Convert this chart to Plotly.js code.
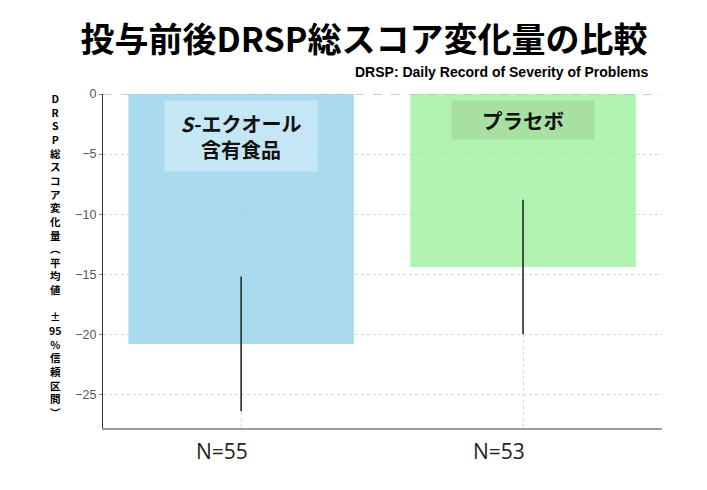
<!DOCTYPE html>
<html>
<head>
<meta charset="utf-8">
<script src="https://cdn.plot.ly/plotly-3.0.1.min.js"></script>
<style>
  body { margin: 0; background: #fff; }
  #chart { width: 707px; height: 490px; }
</style>
</head>
<body>
<div id="chart"></div>
<script>
// values
var groups = ["S-エクオール含有食品", "プラセボ"];
var nLabels = ["N=55", "N=53"];
var meanChange = [-20.8, -14.4];
var ci95 = [5.6, 5.6];
var yTicks = [0, -5, -10, -15, -20, -25];
var yTitleChars = ["D", "R", "S", "P", "総", "ス", "コ", "ア", "変", "化", "量", "︵",
                   "平", "均", "値", "\u00a0", "±", "95", "%", "信", "頼", "区", "間", "︶"];

var W = 707, H = 490;
var M = { l: 103, r: 45, t: 94, b: 62 };
var plotW = W - M.l - M.r, plotH = H - M.t - M.b;
var jp = "'Noto Sans CJK JP', 'Noto Sans', sans-serif";

// pixel -> paper helpers for texts placed outside the plot
function px(x) { return (x - M.l) / plotW; }
function py(y) { return 1 - (y - M.t) / plotH; }

var bars = {
    x: [0, 1],
    y: meanChange,
    type: "bar",
    width: 0.8,
    marker: { color: ["rgb(155,211,235)", "rgb(163,241,162)"], opacity: 0.85, line: { width: 0 } },
    error_y: { type: "data", array: ci95, visible: true, width: 0, thickness: 1.6, color: "#2a2a2a" },
    hoverinfo: "skip",
};

var annotations = [];

// stacked vertical y title, one character per row
annotations.push({
    xref: "paper", yref: "paper",
    x: px(55), y: py(256),
    xanchor: "center", yanchor: "middle",
    text: yTitleChars.join("<br>"),
    showarrow: false, borderpad: 0,
    font: { family: jp, size: 10.5, color: "#000", weight: "bold" },
});

// group labels inside the bars
annotations.push({
    x: 0, y: -3.5, xref: "x", yref: "y",
    text: "<i>S</i>\u200a-エクオール<br>含有食品",
    showarrow: false, width: 150, height: 68,
    bgcolor: "rgb(197,230,245)",
    font: { family: jp, size: 20, color: "#111", weight: "bold" },
});
annotations.push({
    x: 1, y: -2.17, xref: "x", yref: "y",
    text: groups[1],
    showarrow: false, width: 140, height: 36,
    bgcolor: "rgb(168,224,162)",
    font: { family: jp, size: 20.5, color: "#111", weight: "bold" },
});

// N labels under the axis (sit a little left of the bar centres)
var nOffsets = [-0.067, -0.085];
for (var i = 0; i < nLabels.length; i++) {
    annotations.push({
        x: i + nOffsets[i], xref: "x",
        y: py(451), yref: "paper",
        xanchor: "center", yanchor: "middle",
        text: nLabels[i], showarrow: false,
        font: { family: "'Open Sans', 'Noto Sans', sans-serif", size: 21, color: "#222" },
    });
}

// subtitle
annotations.push({
    xref: "paper", yref: "paper",
    x: px(651), y: py(72),
    xanchor: "right", yanchor: "middle",
    text: "DRSP: Daily Record of Severity of Problems",
    showarrow: false,
    font: { family: "'Liberation Sans Narrow', 'Liberation Sans', Arial, sans-serif", size: 14, color: "#000", weight: "bold" },
});

var layout = {
    width: W, height: H,
    margin: M,
    paper_bgcolor: "#fff",
    plot_bgcolor: "#fff",
    showlegend: false,
    title: {
        text: "投与前後DRSP総スコア変化量の比較",
        font: { family: jp, size: 34, color: "#000", weight: "bold" },
        x: 364 / W, xanchor: "center",
        y: 1 - 40 / H, yanchor: "middle",
    },
    xaxis: {
        range: [-0.49, 1.493],
        tickvals: [0, 1],
        showticklabels: false,
        ticks: "",
        showgrid: true,
        gridcolor: "#d6d6d6",
        griddash: "dot",
        gridwidth: 1,
        showline: true,
        linecolor: "#9a9a9a",
        linewidth: 2,
        zeroline: false,
        fixedrange: true,
    },
    yaxis: {
        range: [-27.8, 0],
        tickvals: yTicks,
        ticktext: yTicks.map(function (v) { return v === 0 ? "0" : "\u2212" + Math.abs(v); }),
        tickfont: { family: "'Liberation Sans', Arial, sans-serif", size: 12.5, color: "#555" },
        ticks: "outside",
        ticklen: 3,
        tickcolor: "#888",
        showgrid: true,
        gridcolor: "#d6d6d6",
        griddash: "dot",
        gridwidth: 1,
        showline: true,
        linecolor: "#333",
        linewidth: 1,
        zeroline: false,
        fixedrange: true,
    },
    shapes: [{
        type: "line", xref: "paper", yref: "y",
        x0: 0, x1: 1, y0: 0, y1: 0,
        line: { color: "#bcbcbc", width: 1.5, dash: "dash" },
        layer: "above",
    }],
    annotations: annotations,
};

Plotly.newPlot("chart", [bars], layout, { displayModeBar: false, staticPlot: true });
</script>
</body>
</html>
